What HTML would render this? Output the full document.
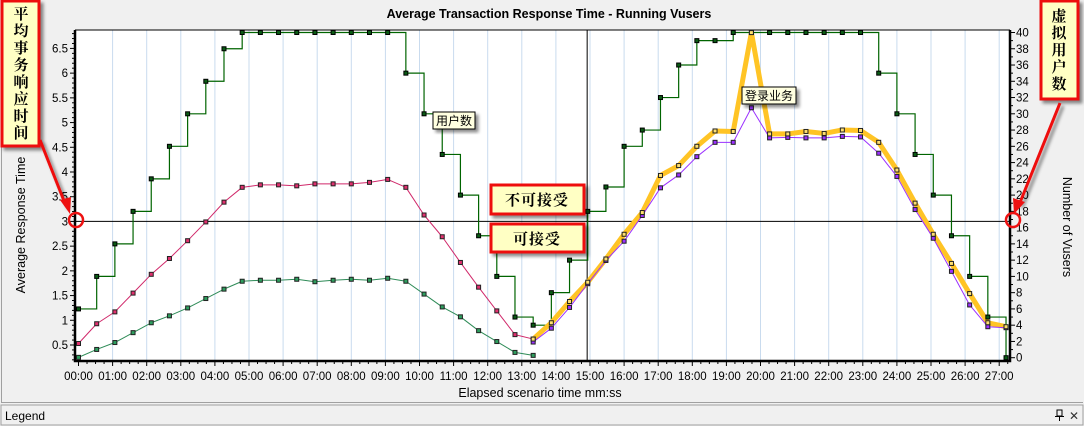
<!DOCTYPE html>
<html><head><meta charset="utf-8">
<style>
html,body{margin:0;padding:0;background:#f0f0f0;}
body{width:1084px;height:426px;overflow:hidden;position:relative;font-family:"Liberation Sans",sans-serif;}
svg{position:absolute;left:0;top:0;}
.cjk{font-family:"Liberation Serif","Noto Serif CJK SC","Noto Sans CJK SC",serif;}
.cjks{font-family:"Liberation Sans","Noto Sans CJK SC",sans-serif;}
</style></head>
<body>
<svg id="chart" width="1084" height="426" viewBox="0 0 1084 426">
  <rect x="0" y="0" width="1084" height="426" fill="#f0f0f0"/>
  <path d="M1.5,0 V402.5 H1083" fill="none" stroke="#a0a0a0"/>
  <text x="549" y="18" text-anchor="middle" font-size="12.5" font-weight="bold" fill="#000">Average Transaction Response Time - Running Vusers</text>
  <rect x="75" y="30" width="935" height="331" fill="#ffffff"/>
  <g id="grid"></g>
  <g id="axes"></g>
  <g id="series"></g>
  <text transform="translate(25,225) rotate(-90)" text-anchor="middle" font-size="12.5" fill="#000">Average Response Time</text>
  <text transform="translate(1063,227) rotate(90)" text-anchor="middle" font-size="12.5" fill="#000">Number of Vusers</text>
  <text x="540" y="397" text-anchor="middle" font-size="12.5" fill="#000">Elapsed scenario time mm:ss</text>
  <rect x="1" y="405" width="1082" height="20" fill="#f0f0f0" stroke="#a0a0a0"/>
  <text x="5" y="420" font-size="12" fill="#000">Legend</text>
  <g><rect x="1057" y="410" width="5" height="6" fill="none" stroke="#000"/><line x1="1055" y1="416.5" x2="1064" y2="416.5" stroke="#000"/><line x1="1059.5" y1="417" x2="1059.5" y2="421" stroke="#000"/></g>
  <text x="1069" y="420" font-size="12" fill="#333">✕</text>
</svg>
<script>
// ---- data ----
var sampleSeconds = [0,32,64,96,128,160,192,224,256,288,320,352,384,416,448,480,512,544,576,608,640,672,704,736,768,800,832,864,896,928,960,992,1024,1056,1088,1120,1152,1184,1216,1248,1280,1312,1344,1376,1408,1440,1472,1504,1536,1568,1600,1632];
var runningVusers = [6,10,14,18,22,26,30,34,38,40,40,40,40,40,40,40,40,40,35,30,25,20,15,10,5,4,8,12,18,21,26,28,32,36,39,39,40,40,40,40,40,40,40,40,35,30,25,20,15,10,5,0];
var txA = [0.53,0.93,1.17,1.55,1.93,2.25,2.61,2.99,3.39,3.69,3.74,3.74,3.72,3.76,3.76,3.76,3.79,3.85,3.69,3.13,2.69,2.17,1.67,1.19,0.71,0.62];
var txB = [0.25,0.41,0.55,0.75,0.95,1.09,1.25,1.44,1.63,1.79,1.81,1.81,1.83,1.78,1.81,1.83,1.81,1.85,1.79,1.53,1.27,1.07,0.79,0.57,0.35,0.29];
var loginStart = 25;
var loginBiz = [0.62,0.95,1.38,1.77,2.24,2.74,3.18,3.93,4.13,4.52,4.83,4.82,6.82,4.77,4.77,4.82,4.78,4.85,4.84,4.60,4.04,3.37,2.74,2.15,1.54,0.95,0.87];
var txC = [0.56,0.84,1.26,1.74,2.21,2.60,3.12,3.68,3.94,4.31,4.60,4.60,5.30,4.69,4.70,4.69,4.69,4.72,4.71,4.38,3.91,3.24,2.66,1.99,1.31,0.87,0.85];
var leftTicks = [0.5,1,1.5,2,2.5,3,3.5,4,4.5,5,5.5,6,6.5];
var leftTickLabels = ["0.5","1","1.5","2","2.5","3","3.5","4","4.5","5","5.5","6","6.5"];
var rightTicks = [0,2,4,6,8,10,12,14,16,18,20,22,24,26,28,30,32,34,36,38,40];
var xTickMinutes = [0,1,2,3,4,5,6,7,8,9,10,11,12,13,14,15,16,17,18,19,20,21,22,23,24,25,26,27];
var threshold = 3;
var markerSeconds = 895;

var NS="http://www.w3.org/2000/svg";
function xs(sec){return 78.5 + sec/60*34.1;}
function yl(v){return 345 - (v-0.5)*49.43;}
function yr(u){return 357.7 - u*8.13;}
var PL=75, PR=1010, PT=30, PB=361;
function mk(tag,attrs,parent){var e=document.createElementNS(NS,tag);for(var k in attrs)e.setAttribute(k,attrs[k]);parent.appendChild(e);return e;}
function pad(n){return (n<10?"0":"")+n;}

var grid=document.getElementById('grid'), axes=document.getElementById('axes'), ser=document.getElementById('series');

xTickMinutes.forEach(function(m){
  var x=xs(m*60);
  if(m>0){var g=mk('line',{x1:x,x2:x,y1:PT,y2:PB,stroke:'#c9dbee','stroke-width':1},grid);
  
  }
  var t=mk('line',{x1:x,x2:x,y1:PB,y2:PB+5,stroke:'#000'},axes);
  
  
  for(var q=1;q<4;q++){var mx=xs(m*60+q*15); if(mx<PR){var mt=mk('line',{x1:mx,x2:mx,y1:PB,y2:PB+3,stroke:'#000'},axes);
    
    }}
  var lb=mk('text',{x:x,y:380,'text-anchor':'middle','font-size':'11.5',fill:'#000'},axes);
  lb.textContent=pad(m)+":00";
  
  
});
for(var v=0.2;v<=6.85;v+=0.1){var yy=yl(v);var big=Math.abs(v*2-Math.round(v*2))<0.01;
  var tk=mk('line',{x1:PL-(big?5:3),x2:PL,y1:yy,y2:yy,stroke:'#000'},axes);
  
  }
leftTicks.forEach(function(v,i){
  var t=mk('text',{x:68,y:yl(v)+4,'text-anchor':'end','font-size':'11.5',fill:'#000'},axes);
  t.textContent=leftTickLabels[i];
  
  
});
for(var u=0;u<=40;u++){var yy=yr(u);
  var tk=mk('line',{x1:PR,x2:PR+(u%2==0?5:3),y1:yy,y2:yy,stroke:'#000'},axes);
  
  }
rightTicks.forEach(function(u){
  var t=mk('text',{x:1016,y:yr(u)+4,'font-size':'11.5',fill:'#000'},axes);
  t.textContent=String(u);
  
  
});
var ax=mk('path',{d:'M'+PL+','+PT+' V'+PB+' H'+PR+' V'+PT,fill:'none',stroke:'#000','stroke-width':2.5},axes);


var tl=mk('line',{x1:PL,x2:PR,y1:PT,y2:PT,stroke:'#000','stroke-width':1},axes);



var th=mk('line',{x1:PL,x2:PR,y1:yl(threshold),y2:yl(threshold),stroke:'#000','stroke-width':1},ser);


var vm=mk('line',{x1:xs(markerSeconds),x2:xs(markerSeconds),y1:PT,y2:PB,stroke:'#000','stroke-width':1},ser);



function markers(pts,fill,stroke,name,size){
  pts.forEach(function(p){
    var r=mk('rect',{x:p[0]-size/2,y:p[1]-size/2,width:size,height:size,fill:fill,stroke:stroke,'stroke-width':1},ser);
    
    
  });
}
function poly(pts,color,w,name){
  var l=mk('polyline',{points:pts.map(function(p){return p[0]+','+p[1];}).join(' '),fill:'none',stroke:color,'stroke-width':w,'stroke-linejoin':'round'},ser);
  
  
}
var up=runningVusers.map(function(u,i){return [xs(sampleSeconds[i]),yr(u)];});
var d='M'+up[0][0]+','+up[0][1];
for(var i=1;i<up.length;i++){d+=' H'+up[i][0]+' V'+up[i][1];}
var us=mk('path',{d:d,fill:'none',stroke:'#006400','stroke-width':1.2},ser);



var pa=txA.map(function(v,i){return [xs(sampleSeconds[i]),yl(v)];});
poly(pa,'#d0286a',1,'transaction-a-line');
var pb=txB.map(function(v,i){return [xs(sampleSeconds[i]),yl(v)];});
poly(pb,'#2e8b57',1,'transaction-b-line');
var py=loginBiz.map(function(v,i){return [xs(sampleSeconds[loginStart+i]),yl(v)];});
var pc=txC.map(function(v,i){return [xs(sampleSeconds[loginStart+i]),yl(v)];});
poly(py,'#ffc425',5,'login-transaction-line');
poly(pc,'#9b30ff',1,'transaction-c-line');
markers(up,'#0a5a14','#000','vusers-point',4);
markers(pa,'#e0306e','#222','transaction-a-point',4);
markers(pb,'#2e9e5e','#222','transaction-b-point',4);
markers(pc,'#9b30ff','#222','transaction-c-point',4);
markers(py,'#ffe070','#222','login-point',4);
</script>
<svg width="1084" height="426" viewBox="0 0 1084 426" style="position:absolute;left:0;top:0">
  <defs>
    <filter id="sh" x="-20%" y="-20%" width="150%" height="150%"><feDropShadow dx="3" dy="3" stdDeviation="1.5" flood-color="#000" flood-opacity="0.45"/></filter>
  </defs>
  <line x1="461" y1="220" x2="922" y2="220" stroke="#ee1111" stroke-width="3.5" filter="url(#sh)"/>
  <line x1="588" y1="70" x2="588" y2="248" stroke="#ee1111" stroke-width="3.5" filter="url(#sh)"/>
  <rect x="2" y="1" width="37" height="145" fill="#ffffc4" stroke="#ee1111" stroke-width="3" filter="url(#sh)"/>
  <text class="cjk" font-size="15" font-weight="bold" text-anchor="middle" fill="#000"><tspan x="21" y="19">平</tspan><tspan x="21" y="36">均</tspan><tspan x="21" y="53">事</tspan><tspan x="21" y="70">务</tspan><tspan x="21" y="87">响</tspan><tspan x="21" y="104">应</tspan><tspan x="21" y="121">时</tspan><tspan x="21" y="138">间</tspan></text>
  <line x1="40" y1="140" x2="66" y2="206" stroke="#ee1111" stroke-width="3" filter="url(#sh)"/>
  <polygon points="70,214 60,200 71,197" fill="#ee1111"/>
  <circle cx="76" cy="220" r="7" fill="none" stroke="#ee1111" stroke-width="2.5"/>
  <rect x="1041" y="1" width="37" height="98" fill="#ffffc4" stroke="#ee1111" stroke-width="3" filter="url(#sh)"/>
  <text class="cjk" font-size="15" font-weight="bold" text-anchor="middle" fill="#000"><tspan x="1059" y="21">虚</tspan><tspan x="1059" y="38">拟</tspan><tspan x="1059" y="55">用</tspan><tspan x="1059" y="72">户</tspan><tspan x="1059" y="89">数</tspan></text>
  <line x1="1060" y1="103" x2="1019" y2="205" stroke="#ee1111" stroke-width="3" filter="url(#sh)"/>
  <polygon points="1014,214 1013,198 1025,202" fill="#ee1111"/>
  <circle cx="1013" cy="220" r="7" fill="none" stroke="#ee1111" stroke-width="2.5"/>
  <rect x="491" y="185" width="93" height="29" fill="#ffffc4" stroke="#ee1111" stroke-width="3" filter="url(#sh)"/>
  <text class="cjk" x="537" y="205" font-size="15" font-weight="bold" text-anchor="middle" letter-spacing="1">不可接受</text>
  <rect x="491" y="224" width="93" height="28" fill="#ffffc4" stroke="#ee1111" stroke-width="3" filter="url(#sh)"/>
  <text class="cjk" x="537" y="244" font-size="15" font-weight="bold" text-anchor="middle" letter-spacing="1">可接受</text>
  <rect x="433" y="112" width="42" height="17" fill="#ffffe0" stroke="#000" filter="url(#sh)"/>
  <text class="cjks" x="454" y="125" font-size="12" text-anchor="middle">用户数</text>
  <rect x="742" y="87" width="54" height="17" fill="#ffffe0" stroke="#000" filter="url(#sh)"/>
  <text class="cjks" x="769" y="100" font-size="12" text-anchor="middle">登录业务</text>
</svg>
</body></html>
